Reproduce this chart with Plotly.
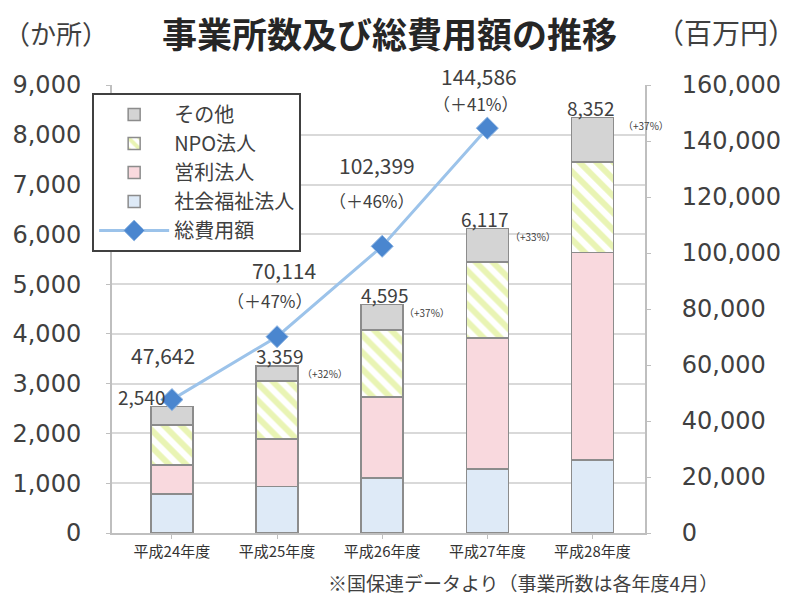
import plotly.graph_objects as go

years = ["平成24年度", "平成25年度", "平成26年度", "平成27年度", "平成28年度"]
social = [780, 930, 1100, 1290, 1470]
profit = [590, 960, 1630, 2630, 4170]
npo = [800, 1160, 1350, 1520, 1810]
other = [370, 309, 515, 677, 902]
totals = [2540, 3359, 4595, 6117, 8352]
total_growth = [None, "+32%", "+37%", "+33%", "+37%"]
cost = [47642, 70114, 102399, 144586, None]
cost_growth = [None, "（＋47%）", "（＋46%）", "（＋41%）", None]

JP = "Noto Sans CJK JP"
TXT = "#404040"
x = list(range(len(years)))

L, R, T, B = 108, 153, 85, 66
W, H = 798, 599
pw, ph = W - L - R, H - T - B
def px(xp): return (xp - L) / pw
def py(yp): return (H - B - yp) / ph

fig = go.Figure()
bw = 0.4
line_c = "#8c8c8c"
fig.add_trace(go.Bar(x=x, y=social, name="社会福祉法人", width=bw, legendrank=4,
                     marker=dict(color="#deeaf7", line=dict(color=line_c, width=1.5))))
fig.add_trace(go.Bar(x=x, y=profit, name="営利法人", width=bw, legendrank=3,
                     marker=dict(color="#f9d9de", line=dict(color=line_c, width=1.5))))
fig.add_trace(go.Bar(x=x, y=npo, name="NPO法人", width=bw, legendrank=2,
                     marker=dict(color="#ffffff", line=dict(color=line_c, width=1.5),
                                 pattern=dict(shape="\\", fgcolor="#d3ea6a", bgcolor="#ffffff",
                                              size=12, solidity=0.5))))
fig.add_trace(go.Bar(x=x, y=other, name="その他", width=bw, legendrank=1,
                     marker=dict(color="#d4d4d4", line=dict(color=line_c, width=1.5))))
fig.add_trace(go.Scatter(x=x, y=cost, name="総費用額", yaxis="y2", legendrank=5,
                         mode="lines+markers",
                         line=dict(color="#9cc3ea", width=3),
                         marker=dict(symbol="diamond", size=17, color="#4a86cf",
                                     line=dict(color="#8fb6e3", width=1))))

ann = []
tot_dx = [-30, 2, 2, -3, -2]
gx_list = [0, 48, 45, 46, 54]
for i, t in enumerate(totals):
    ann.append(dict(x=x[i], y=t, xref="x", yref="y", text=f"{t:,}", showarrow=False,
                    xshift=tot_dx[i], yshift=10, font=dict(family=JP, size=19, color=TXT)))
    if total_growth[i]:
        ann.append(dict(x=x[i], y=t, xref="x", yref="y", text=f"（{total_growth[i]}）",
                        showarrow=False, xshift=gx_list[i], yshift=-8,
                        font=dict(family=JP, size=10, color=TXT)))
val_dy = [45, 67, 81, 52]
val_dx = [-9, 7, -5, -8]
pct_dy = [0, 36, 46, 25]
pct_dx = [0, -7, -10, -11]
for i, c in enumerate(cost):
    if c is None:
        continue
    ann.append(dict(x=x[i], y=c, xref="x", yref="y2", text=f"{c:,}", showarrow=False,
                    xshift=val_dx[i], yshift=val_dy[i], font=dict(family=JP, size=21, color=TXT)))
    if cost_growth[i]:
        ann.append(dict(x=x[i], y=c, xref="x", yref="y2", text=cost_growth[i], showarrow=False,
                        xshift=pct_dx[i], yshift=pct_dy[i], font=dict(family=JP, size=17, color=TXT)))

def paper_text(text, xp, yp, size, color=TXT):
    return dict(x=px(xp), y=py(yp), xref="paper", yref="paper", text=text, showarrow=False,
                xanchor="center", yanchor="middle", font=dict(family=JP, size=size, color=color))

ann.append(paper_text("<b>事業所数及び総費用額の推移</b>", 388, 32, 35, "#262626"))
ann.append(paper_text("（か所）", 52, 32, 26))
ann.append(paper_text("（百万円）", 727, 32, 28))
ann.append(paper_text("※国保連データより（事業所数は各年度4月）", 522, 582, 19))

fig.update_layout(
    width=W, height=H, margin=dict(l=L, r=R, t=T, b=B),
    paper_bgcolor="white", plot_bgcolor="white",
    barmode="stack", bargap=0.6,
    font=dict(family=JP, color=TXT),
    annotations=ann,
    legend=dict(x=px(88), y=py(93), xanchor="left", yanchor="top",
                bgcolor="white", bordercolor="#404040", borderwidth=2,
                font=dict(family=JP, size=20, color=TXT), traceorder="normal",
                itemwidth=70, tracegroupgap=0),
    xaxis=dict(tickmode="array", tickvals=x, ticktext=years, range=[-0.57, 4.5],
               showline=True, linecolor="#bfbfbf", linewidth=2, ticks="outside",
               tickson="boundaries", tickcolor="#bfbfbf", ticklen=4,
               tickfont=dict(family=JP, size=15, color="#333333")),
    yaxis=dict(range=[0, 9000], dtick=1000, tickformat=",", showgrid=True,
               gridcolor="#d9d9d9", gridwidth=2, showline=True, linecolor="#bfbfbf",
               linewidth=2, ticks="outside", tickcolor="#bfbfbf", ticklen=4,
               ticklabelstandoff=20,
               tickfont=dict(family="DejaVu Sans", size=24, color=TXT), zeroline=False),
    yaxis2=dict(range=[0, 160000], dtick=20000, tickformat=",", overlaying="y", side="right",
                showgrid=False, showline=True, linecolor="#bfbfbf", linewidth=2,
                ticks="outside", tickcolor="#bfbfbf", ticklen=4, zeroline=False,
                ticklabelstandoff=26,
                tickfont=dict(family="DejaVu Sans", size=24, color=TXT)),
)

fig.write_html("out.html")
